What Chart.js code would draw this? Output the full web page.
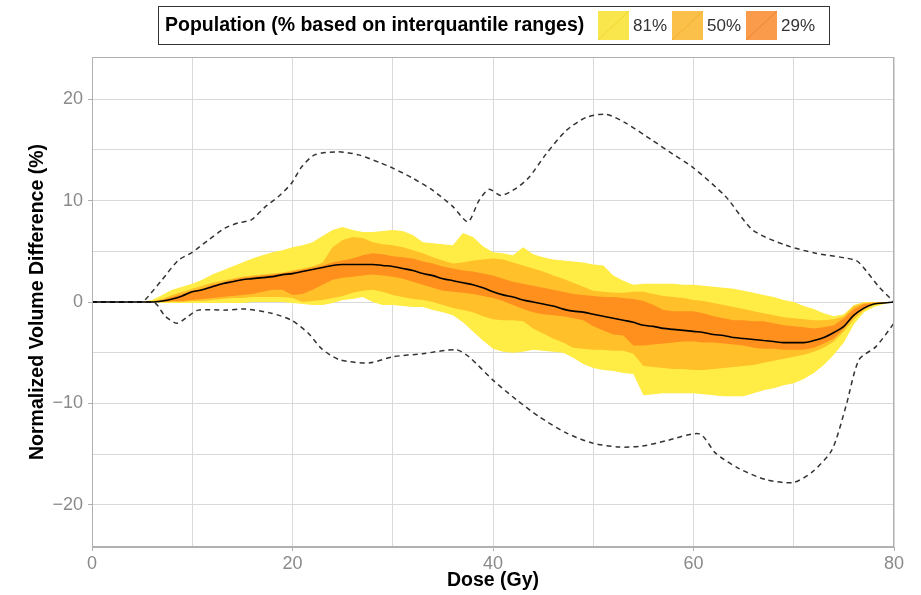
<!DOCTYPE html>
<html>
<head>
<meta charset="utf-8">
<script src="https://cdn.jsdelivr.net/npm/chart.js@4.4.1/dist/chart.umd.min.js"></script>
<style>
html,body{margin:0;padding:0;background:#fff;}
#c{display:block;}
</style>
</head>
<body>
<canvas id="c" width="921" height="595"></canvas>
<script>
// Dose grid (Gy) shared by the quantile bands and the median
const dose = [0,5,6,7,8,9,10,11,12,13,14,15,16,17,18,19,20,21,22,23,24,25,26,27,28,29,30,31,32,33,34,35,36,37,38,39,40,41,42,43,44,45,46,47,48,49,50,51,52,53,54,55,56,57,58,59,60,61,62,63,64,65,66,67,68,69,70,71,72,73,74,75,76,77,78,79,80];

// 81% band
const band81Upper = [0, 0,0.2,0.7,1.2,1.5,1.8,2.2,2.7,3.1,3.5, 3.9,4.3,4.6,4.9,5.1,5.4,5.6,5.9,6.5,7.1, 7.4,7.1,6.9,6.9,7.0,7.1,7.0,6.6,5.9,5.8, 5.7,5.6,6.8,6.4,5.5,4.9,4.8,4.6,5.4,4.7, 4.4,4.2,4.1,4.0,3.9,3.7,3.6,2.6,2.1,1.7, 1.8,1.8,1.8,1.8,1.7,1.7,1.6,1.5,1.4,1.3, 1.1,0.9,0.7,0.5,0.2,0.0,-0.4,-0.7,-1.1,-1.4, -1.2,-0.3,0,0,0,0];
const band81Lower = [0, 0,0,-0.1,-0.1,-0.1,-0.1,-0.1,-0.1,-0.1,-0.1, -0.1,0,0,0,0,-0.1,-0.2,-0.3,-0.3,-0.1, 0.2,0.3,0.5,0.0,-0.3,-0.3,-0.4,-0.5,-0.5,-0.8, -1.0,-1.3,-2.0,-2.9,-3.8,-4.6,-4.9,-5.0,-4.9,-4.7, -4.8,-4.9,-5.0,-5.5,-6.1,-6.5,-6.7,-6.8,-7.0,-7.1, -9.2,-9.1,-9.0,-9.0,-9.0,-9.0,-9.1,-9.2,-9.3,-9.3, -9.3,-9.0,-8.7,-8.5,-8.2,-8.0,-7.6,-7.0,-6.2,-5.2, -4.0,-2.2,-1.0,-0.5,-0.2,0];

// 50% band
const band50Upper = [0, 0,0.1,0.3,0.7,1.0,1.3,1.6,1.9,2.1,2.3, 2.5,2.6,2.7,2.8,2.9,3.1,3.3,3.5,3.9,5.4, 6.1,6.4,6.3,5.9,5.7,5.6,5.4,5.1,4.8,4.4, 4.1,3.8,3.9,4.1,4.2,4.3,4.2,3.9,3.6,3.3, 3.0,2.6,2.3,1.9,1.5,1.1,1.0,0.9,0.9,1.0, 1.0,0.8,0.6,0.5,0.4,0.2,0.1,-0.1,-0.3,-0.5, -0.7,-0.9,-1.1,-1.3,-1.5,-1.6,-1.7,-1.8,-1.8,-1.7, -1.4,-0.4,-0.1,0,0,0];
const band50Lower = [0, 0,0,0,0,0,0.1,0.1,0.2,0.3,0.4, 0.4,0.5,0.5,0.5,0.5,0.4,0,0.1,0.2,0.4, 0.6,0.9,1.1,1.2,1.0,0.7,0.5,0.3,0.2,0, -0.3,-0.6,-0.8,-1.0,-1.4,-1.7,-1.8,-1.8,-1.9,-2.6, -3.1,-3.6,-4.0,-4.5,-4.6,-4.7,-4.7,-4.8,-4.8,-5.1, -6.3,-6.4,-6.5,-6.6,-6.6,-6.7,-6.7,-6.6,-6.5,-6.4, -6.3,-6.2,-6.0,-5.8,-5.6,-5.4,-5.2,-4.9,-4.5,-3.9, -2.9,-1.7,-0.8,-0.3,-0.1,0];

// 29% band
const band29Upper = [0, 0,0,0.2,0.5,0.8,1.1,1.3,1.7,1.9,2.2, 2.4,2.5,2.6,2.7,2.8,3.0,3.2,3.4,3.6,3.9, 4.1,4.3,4.6,4.8,4.7,4.5,4.4,4.3,4.0,3.8, 3.5,3.3,3.1,3.0,2.8,2.6,2.3,2.0,1.8,1.6, 1.4,1.2,1.0,0.8,0.7,0.6,0.5,0.5,0.4,0.3, 0.1,-0.3,-0.8,-0.9,-0.9,-0.9,-1.1,-1.4,-1.6,-1.8, -1.8,-1.9,-1.9,-2.1,-2.3,-2.4,-2.5,-2.6,-2.5,-2.3, -1.6,-0.7,-0.2,-0.1,0,0];
const band29Lower = [0, 0,0,0,0.1,0.1,0.2,0.3,0.4,0.5,0.6, 0.7,0.8,1.0,1.2,1.2,0.7,0.8,1.2,1.7,2.2, 2.4,2.5,2.6,2.7,2.6,2.5,2.3,2.0,1.7,1.4, 1.1,1.0,0.9,0.8,0.6,0.4,0.1,-0.3,-0.7,-1.0, -1.2,-1.3,-1.4,-1.6,-1.8,-2.4,-2.8,-3.2,-3.3,-4.3, -4.3,-4.2,-4.1,-4.0,-3.9,-3.9,-4.0,-4.0,-4.1,-4.2, -4.3,-4.5,-4.6,-4.6,-4.7,-4.7,-4.7,-4.5,-4.1,-3.6, -2.6,-1.4,-0.7,-0.2,-0.1,0];

// Median
const median = [0, 0,0,0.1,0.3,0.6,1.0,1.2,1.5,1.8,2.0, 2.2,2.3,2.4,2.5,2.7,2.8,3.0,3.2,3.4,3.6, 3.7,3.7,3.7,3.7,3.6,3.5,3.3,3.1,2.8,2.6, 2.3,2.1,1.9,1.7,1.4,1.0,0.7,0.5,0.2,0.0, -0.2,-0.4,-0.7,-0.9,-1.0,-1.2,-1.4,-1.6,-1.8,-2.0, -2.3,-2.4,-2.6,-2.7,-2.8,-2.9,-3.0,-3.2,-3.3,-3.5, -3.6,-3.7,-3.8,-3.9,-4.0,-4.0,-4.0,-3.8,-3.5,-3.0, -2.4,-1.3,-0.6,-0.2,-0.1,0];

// Envelope (min / max) dashed lines
const maxDose = [0,5,5.3,7,8.6,10,11.6,13.3,14.6,15.9,17.3,18.6,19.9,20.9,22.2,24.6,26.6,28.8,30,32,34,36,37.5,38.6,39.6,40.8,42.3,43.6,45.3,47.3,49.3,51.3,53.3,55.8,57.9,59.9,63.2,65.9,69.2,72.2,76.2,77.2,78.5,80];
const maxValue = [0,0,0.2,2.2,4.1,4.9,6.1,7.3,7.8,8.1,9.4,10.4,11.7,13.3,14.5,14.8,14.5,13.7,13.2,12.2,11.0,9.4,7.9,10.0,11.1,10.5,11.2,12.3,14.6,16.9,18.2,18.5,17.6,16.0,14.6,13.3,10.4,7.1,5.6,4.8,4.1,3.1,1.5,0];
const minDose = [0,5,6.3,7.3,8.5,9.6,10.6,13.3,15.3,17.9,19.9,21.6,22.9,24.7,27.7,30,33,36.3,37.6,40,42.3,44.6,47.3,49.9,52.6,54.9,57.2,60.6,62.2,64.5,67.2,69.9,71.8,73.8,75.2,76.5,78.2,80];
const minValue = [0,0,-0.1,-1.4,-2.1,-1.4,-0.8,-0.8,-0.7,-1.1,-1.8,-3.1,-4.6,-5.7,-6.0,-5.4,-5.1,-4.7,-5.4,-7.7,-9.6,-11.3,-12.9,-13.9,-14.3,-14.2,-13.7,-13.0,-14.9,-16.4,-17.5,-17.8,-16.8,-14.6,-10.3,-5.7,-4.4,-2.1];

// Legend / axes text
const legendTitle = 'Population (% based on interquantile ranges)';
const legendLabels = ['81%','50%','29%'];
const xTitle = 'Dose (Gy)';
const yTitle = 'Normalized Volume Difference (%)';

const C81 = '#FFEC45', C50 = '#FFC02A', C29 = '#FF901E';
const L81 = '#F9E64C', L50 = '#FBC04A', L29 = '#F99B4A';
const FONT = '"Liberation Sans", Arial, Helvetica, sans-serif';
const TITLE_SIZE = 19.5;

const pts = (xs, ys) => xs.map((x, i) => ({x: x, y: ys[i]}));

function band(vals, color, fillTarget, ord) {
  return {
    data: pts(dose, vals), borderColor: 'transparent', borderWidth: 0,
    backgroundColor: color, pointRadius: 0, fill: fillTarget, order: ord, tension: 0
  };
}

const datasets = [
  band(band81Upper, C81, 1, 10),
  band(band81Lower, C81, false, 10),
  band(band50Upper, C50, 3, 9),
  band(band50Lower, C50, false, 9),
  band(band29Upper, C29, 5, 8),
  band(band29Lower, C29, false, 8),
  {data: pts(maxDose, maxValue), borderColor: '#333', borderWidth: 1.5, borderDash: [5,4],
   pointRadius: 0, fill: false, order: 2, tension: 0.25},
  {data: pts(minDose, minValue), borderColor: '#333', borderWidth: 1.5, borderDash: [5,4],
   pointRadius: 0, fill: false, order: 2, tension: 0.25},
  {data: pts(dose, median), borderColor: '#000', borderWidth: 1.6,
   pointRadius: 0, fill: false, order: 1, cubicInterpolationMode: 'monotone'}
];

const framePlugin = {
  id: 'frame',
  afterDatasetsDraw(chart) {
    const {ctx, chartArea: a} = chart;
    ctx.save();
    ctx.strokeStyle = '#b0b0b0';
    ctx.lineWidth = 1;
    ctx.strokeRect(Math.round(a.left) + 0.5, Math.round(a.top) + 0.5,
                   Math.round(a.right - a.left) - 1, Math.round(a.bottom - a.top) - 1);
    ctx.restore();
  },
  afterDraw(chart) {
    const ctx = chart.ctx;
    ctx.save();
    ctx.fillStyle = '#fff';
    ctx.fillRect(158, 6, 672, 38);
    ctx.strokeStyle = '#333';
    ctx.lineWidth = 1;
    ctx.strokeRect(158.5, 6.5, 671, 38);
    ctx.fillStyle = '#000';
    ctx.textBaseline = 'middle';
    ctx.textAlign = 'left';
    ctx.font = 'bold ' + TITLE_SIZE + 'px ' + FONT;
    ctx.fillText(legendTitle, 165, 26);
    const sw = [[598, L81, '#F0D830'], [672, L50, '#F5AE30'], [746, L29, '#F08530']];
    ctx.font = '17px ' + FONT;
    sw.forEach((s, i) => {
      ctx.fillStyle = s[1];
      ctx.fillRect(s[0], 11, 31, 29);
      ctx.strokeStyle = s[2];
      ctx.lineWidth = 1;
      ctx.beginPath();
      ctx.moveTo(s[0], 40);
      ctx.lineTo(s[0] + 31, 11);
      ctx.stroke();
      ctx.fillStyle = '#333';
      ctx.fillText(legendLabels[i], s[0] + 35, 26);
    });
    ctx.restore();
  }
};

const minus = v => (v < 0 ? '\u2212' + Math.abs(v) : String(v));

new Chart(document.getElementById('c'), {
  type: 'line',
  data: {datasets: datasets},
  plugins: [framePlugin],
  options: {
    responsive: false,
    animation: false,
    devicePixelRatio: 1,
    layout: {padding: {top: 57, right: 27, left: 0, bottom: 0}},
    plugins: {legend: {display: false}, tooltip: {enabled: false}, filler: {propagate: false}},
    scales: {
      x: {
        type: 'linear', min: 0, max: 80,
        afterFit: s => { s.height = 48; },
        ticks: {
          stepSize: 10, autoSkip: false, maxRotation: 0, padding: 2,
          color: '#8a8a8a', font: {size: 18, family: FONT},
          callback: v => (v % 20 === 0 ? minus(v) : '')
        },
        grid: {
          color: '#d9d9d9', lineWidth: 1, drawTicks: true, tickLength: 4,
          tickColor: c => (c.tick && c.tick.value % 20 === 0 ? '#b0b0b0' : 'rgba(0,0,0,0)')
        },
        border: {display: true, color: '#b0b0b0'},
        title: {display: true, text: xTitle, color: '#000',
                font: {size: TITLE_SIZE, weight: 'bold', family: FONT}, padding: {top: 0, bottom: 3}}
      },
      y: {
        type: 'linear', min: -24.15, max: 24.15,
        afterFit: s => { s.width = 92; },
        ticks: {
          stepSize: 5, includeBounds: false, autoSkip: false, padding: 5,
          color: '#8a8a8a', font: {size: 18, family: FONT},
          callback: v => (v % 10 === 0 ? minus(v) : '')
        },
        grid: {
          color: '#d9d9d9', lineWidth: 1, drawTicks: true, tickLength: 4,
          tickColor: c => (c.tick && c.tick.value % 10 === 0 ? '#b0b0b0' : 'rgba(0,0,0,0)')
        },
        border: {display: true, color: '#b0b0b0'},
        title: {display: true, text: yTitle, color: '#000',
                font: {size: TITLE_SIZE, weight: 'bold', family: FONT}, padding: {top: 26, bottom: 0}}
      }
    }
  }
});
</script>
</body>
</html>
